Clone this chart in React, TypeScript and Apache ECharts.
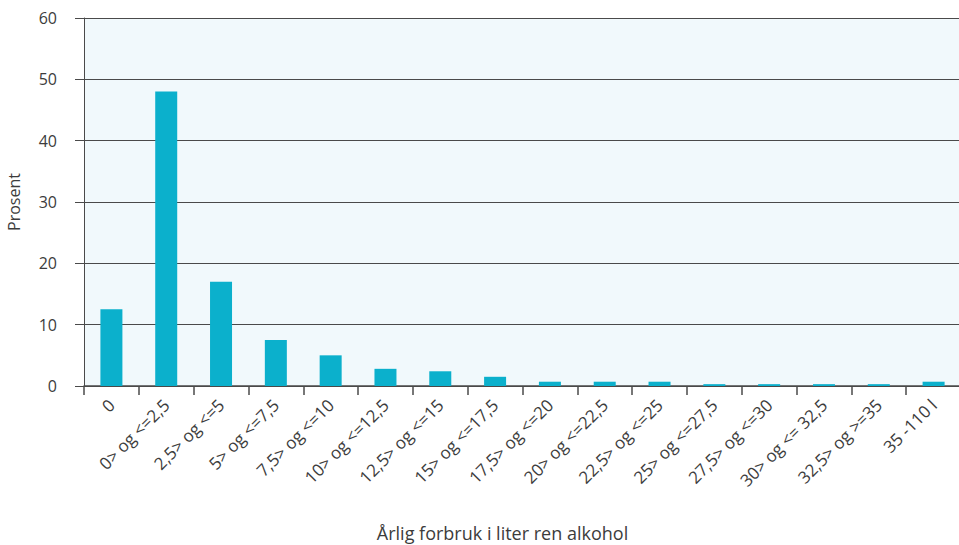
import React, { useEffect, useRef } from "react";
import * as echarts from "echarts";

const categories = [
  "0",
  "0> og <=2,5",
  "2,5> og <=5",
  "5> og <=7,5",
  "7,5> og <=10",
  "10> og <=12,5",
  "12,5> og <=15",
  "15> og <=17,5",
  "17,5> og <=20",
  "20> og <=22,5",
  "22,5> og <=25",
  "25> og <=27,5",
  "27,5> og <=30",
  "30> og <= 32,5",
  "32,5> og >=35",
  "35 -110 l",
];

const values = [12.5, 48, 17, 7.5, 5, 2.8, 2.4, 1.5, 0.7, 0.7, 0.7, 0.3, 0.3, 0.3, 0.3, 0.7];

const yTicks = [0, 10, 20, 30, 40, 50, 60];

const xAxisTitle = "Årlig forbruk i liter ren alkohol";
const yAxisTitle = "Prosent";

export default function App() {
  const ref = useRef<HTMLDivElement>(null);
  useEffect(() => {
    if (!ref.current) return;
    document.body.style.margin = "0";
    const chart = echarts.init(ref.current, undefined, { renderer: "svg" });
    const font = "'Open Sans', Roboto, sans-serif";
    const textColor = "#3c3c3c";
    const lineColor = "#4a4a4a";
    chart.setOption({
      animation: false,
      grid: {
        left: 84,
        right: -2,
        top: 18,
        bottom: 159,
        show: true,
        backgroundColor: "#f1f9fc",
        borderWidth: 0,
        containLabel: false,
        outerBoundsMode: "none",
      },
      xAxis: {
        type: "category",
        data: categories,
        axisLine: { show: true, lineStyle: { color: lineColor, width: 1.5 } },
        axisTick: { show: true, length: 9, alignWithLabel: false, lineStyle: { color: lineColor, width: 1.5 } },
        axisLabel: {
          rotate: 45,
          interval: 0,
          margin: 16,
          padding: [14, 0, 0, 0],
          color: textColor,
          fontFamily: font,
          fontSize: 17,
        },
        name: xAxisTitle,
        nameLocation: "middle",
        nameGap: 138,
        nameTextStyle: { color: textColor, fontFamily: font, fontSize: 18, padding: [0, 40, 0, 0] },
      },
      yAxis: {
        type: "value",
        min: 0,
        max: yTicks[yTicks.length - 1],
        interval: yTicks[1] - yTicks[0],
        axisLine: { show: true, lineStyle: { color: lineColor, width: 1 } },
        axisTick: { show: true, length: 9, lineStyle: { color: lineColor, width: 1 } },
        splitLine: { show: true, lineStyle: { color: lineColor, width: 1 } },
        axisLabel: {
          margin: 27,
          color: textColor,
          fontFamily: font,
          fontSize: 16,
        },
        name: yAxisTitle,
        nameLocation: "middle",
        nameGap: 62,
        nameTextStyle: { color: textColor, fontFamily: font, fontSize: 16 },
      },
      series: [
        {
          type: "bar",
          data: values,
          barWidth: 22,
          itemStyle: { color: "#0bb0cc" },
        },
      ],
    });
    return () => chart.dispose();
  }, []);
  return <div ref={ref} style={{ width: 959, height: 545 }} />;
}
